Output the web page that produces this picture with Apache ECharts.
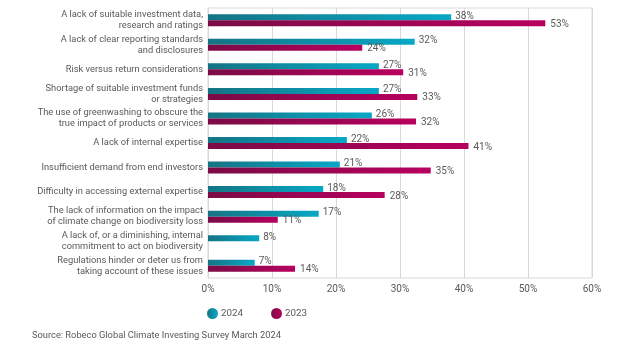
<!DOCTYPE html>
<html>
<head>
<meta charset="utf-8">
<script src="https://cdn.jsdelivr.net/npm/echarts@6/dist/echarts.min.js"></script>
<style>
html,body{margin:0;padding:0;background:#fff;}
#chart{width:627px;height:352px;}
</style>
</head>
<body>
<div id="chart"></div>
<script>
const categories = [
  "A lack of suitable investment data,\nresearch and ratings",
  "A lack of clear reporting standards\nand disclosures",
  "Risk versus return considerations",
  "Shortage of suitable investment funds\nor strategies",
  "The use of greenwashing to obscure the\ntrue impact of products or services",
  "A lack of internal expertise",
  "Insufficient demand from end investors",
  "Difficulty in accessing external expertise",
  "The lack of information on the impact\nof climate change on biodiversity loss",
  "A lack of, or a diminishing, internal\ncommitment to act on biodiversity",
  "Regulations hinder or deter us from\ntaking account of these issues"
];
const values2024 = [38, 32.3, 26.7, 26.7, 25.6, 21.7, 20.6, 18, 17.3, 8, 7.3];
const values2023 = [52.7, 24.1, 30.5, 32.7, 32.5, 40.7, 34.8, 27.6, 10.9, null, 13.6];
const labels2024 = ["38%","32%","27%","27%","26%","22%","21%","18%","17%","8%","7%"];
const labels2023 = ["53%","24%","31%","33%","32%","41%","35%","28%","11%","","14%"];
const xTicks = [0, 10, 20, 30, 40, 50, 60];
const seriesNames = ["2024", "2023"];
const sourceText = "Source: Robeco Global Climate Investing Survey March 2024";

const FONT = "Roboto, sans-serif";
const TXT = '#595959';

const chart = echarts.init(document.getElementById('chart'));
function grad(c1, c2){
  return new echarts.graphic.LinearGradient(0, 0, 1, 0, [{offset:0,color:c1},{offset:1,color:c2}]);
}
chart.setOption({
  animation: false,
  color: ['#0b8fa8', '#9b0452'],
  textStyle: {fontFamily: FONT},
  grid: {left: 208, right: 35, top: 8, bottom: 74, show: true, borderColor: '#d9d9d9', borderWidth: 1},
  legend: {
    data: seriesNames, left: 202, top: 303, icon: 'circle', itemWidth: 11, itemHeight: 11, itemGap: 28, itemStyle: {},
    textStyle: {fontFamily: FONT, fontSize: 9.8, color: TXT, padding: [0, 0, 0, -2]}
  },
  xAxis: {
    type: 'value', min: xTicks[0], max: xTicks[xTicks.length-1], interval: 10,
    axisLine: {show: false}, axisTick: {show: false},
    splitLine: {lineStyle: {color: '#d9d9d9'}},
    axisLabel: {formatter: v => v + '%', color: TXT, fontSize: 10, fontFamily: FONT, margin: 6}
  },
  yAxis: {
    type: 'category', data: categories, inverse: true,
    axisLine: {show: true, lineStyle: {color: '#d9d9d9'}}, axisTick: {show: false},
    axisLabel: {color: TXT, fontSize: 9.3, lineHeight: 11, fontFamily: FONT, margin: 5, align: 'right'}
  },
  series: [
    {
      name: seriesNames[0], type: 'bar', data: values2024, barWidth: 6, barGap: '0%',
      itemStyle: {color: grad('#157484', '#07a8c6')},
      label: {show: true, position: 'right', distance: 4, offset: [0, -1], color: TXT, fontSize: 10, fontFamily: FONT,
        formatter: p => labels2024[p.dataIndex]}
    },
    {
      name: seriesNames[1], type: 'bar', data: values2023, barWidth: 6,
      itemStyle: {color: grad('#7a0b45', '#b8005f')},
      label: {show: true, position: 'right', distance: 5, offset: [0, 1], color: TXT, fontSize: 10, fontFamily: FONT,
        formatter: p => labels2023[p.dataIndex]}
    }
  ],
  graphic: [{
    type: 'text', left: 32, top: 331,
    style: {text: sourceText, fill: TXT, fontSize: 9.3, fontFamily: FONT}
  }]
});
</script>
</body>
</html>
